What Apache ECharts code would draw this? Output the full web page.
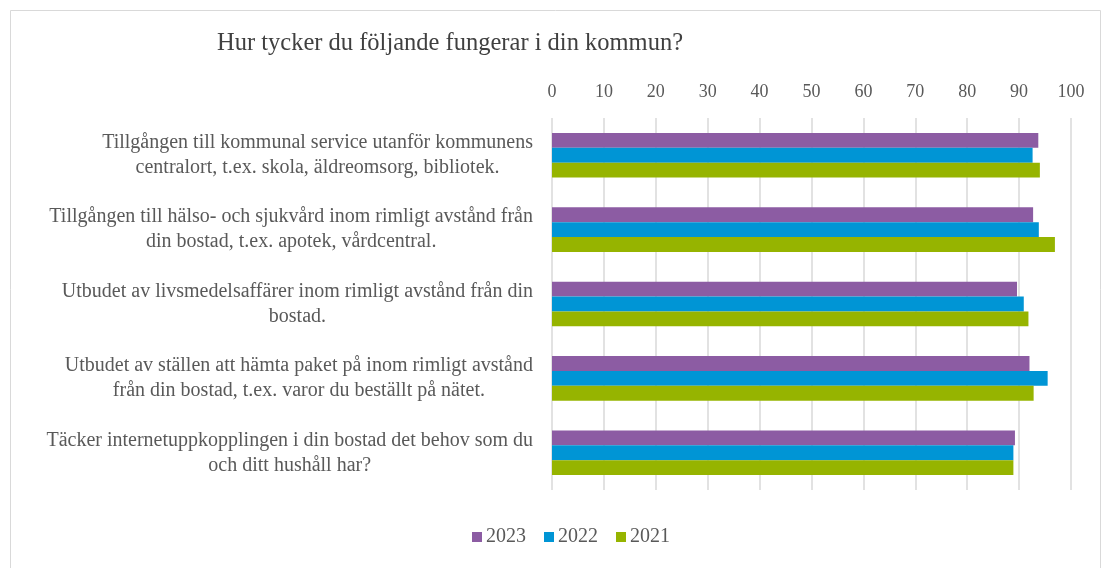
<!DOCTYPE html>
<html>
<head>
<meta charset="utf-8">
<script src="https://cdn.jsdelivr.net/npm/echarts@6/dist/echarts.min.js"></script>
<style>
  html, body { margin: 0; padding: 0; background: #fff; }
  #chart { width: 1108px; height: 568px; }
</style>
</head>
<body>
<div id="chart"></div>
<script>
const categories = [
  'Tillgången till kommunal service utanför kommunens\ncentralort, t.ex. skola, äldreomsorg, bibliotek.',
  'Tillgången till hälso- och sjukvård inom rimligt avstånd från\ndin bostad, t.ex. apotek, vårdcentral.',
  'Utbudet av livsmedelsaffärer inom rimligt avstånd från din\nbostad.',
  'Utbudet av ställen att hämta paket på inom rimligt avstånd\nfrån din bostad, t.ex. varor du beställt på nätet.',
  'Täcker internetuppkopplingen i din bostad det behov som du\noch ditt hushåll har?'
]
const values2023 = [93.7, 92.7, 89.6, 92.0, 89.2]
const values2022 = [92.6, 93.8, 90.9, 95.5, 88.9]
const values2021 = [94.0, 96.9, 91.8, 92.8, 88.9]

const fontFamily = '"Liberation Serif", "DejaVu Serif", serif'
const colors = ['#8c5ca3', '#0095d5', '#96b400']

const chart = echarts.init(document.getElementById('chart'))
chart.setOption({
  backgroundColor: '#fff',
  animation: false,
  color: colors,
  title: {
    text: 'Hur tycker du följande fungerar i din kommun?',
    left: 212,
    top: 26,
    textStyle: {
      fontFamily: fontFamily,
      fontWeight: 'normal',
      fontSize: 24.5,
      color: '#404040'
    }
  },
  graphic: [{
    type: 'rect',
    shape: { x: 10.5, y: 10.5, width: 1090, height: 570 },
    style: { fill: 'none', stroke: '#d9d9d9', lineWidth: 1 },
    silent: true
  }],
  legend: {
    bottom: 16,
    left: 467,
    itemWidth: 10,
    itemHeight: 10,
    itemGap: 18,
    icon: 'rect',
    textStyle: {
      fontFamily: fontFamily,
      fontSize: 20,
      color: '#595959',
      padding: [0, 0, 0, -1]
    },
    data: ['2023', '2022', '2021']
  },
  grid: {
    left: 552,
    right: 37,
    top: 118,
    bottom: 78
  },
  xAxis: {
    type: 'value',
    position: 'top',
    min: 0,
    max: 100,
    interval: 10,
    axisLine: { show: false },
    axisTick: { show: false },
    splitLine: {
      lineStyle: { color: '#d9d9d9', width: 1.5 }
    },
    axisLabel: {
      margin: 17,
      fontFamily: fontFamily,
      fontSize: 18,
      color: '#595959'
    }
  },
  yAxis: {
    type: 'category',
    inverse: true,
    data: categories,
    axisLine: { show: false },
    axisTick: { show: false },
    axisLabel: {
      margin: 19,
      align: 'right',
      formatter: function (value) {
        return value.split('\n').map(function (line) {
          return '{c|' + line + '}'
        }).join('\n')
      },
      rich: {
        c: {
          align: 'center',
          fontFamily: fontFamily,
          fontSize: 20,
          lineHeight: 25,
          color: '#595959'
        }
      }
    }
  },
  series: [{
    name: '2023',
    type: 'bar',
    barGap: '0%',
    barCategoryGap: '40%',
    data: values2023
  }, {
    name: '2022',
    type: 'bar',
    barGap: '0%',
    barCategoryGap: '40%',
    data: values2022
  }, {
    name: '2021',
    type: 'bar',
    barGap: '0%',
    barCategoryGap: '40%',
    data: values2021
  }]
})
</script>
</body>
</html>
